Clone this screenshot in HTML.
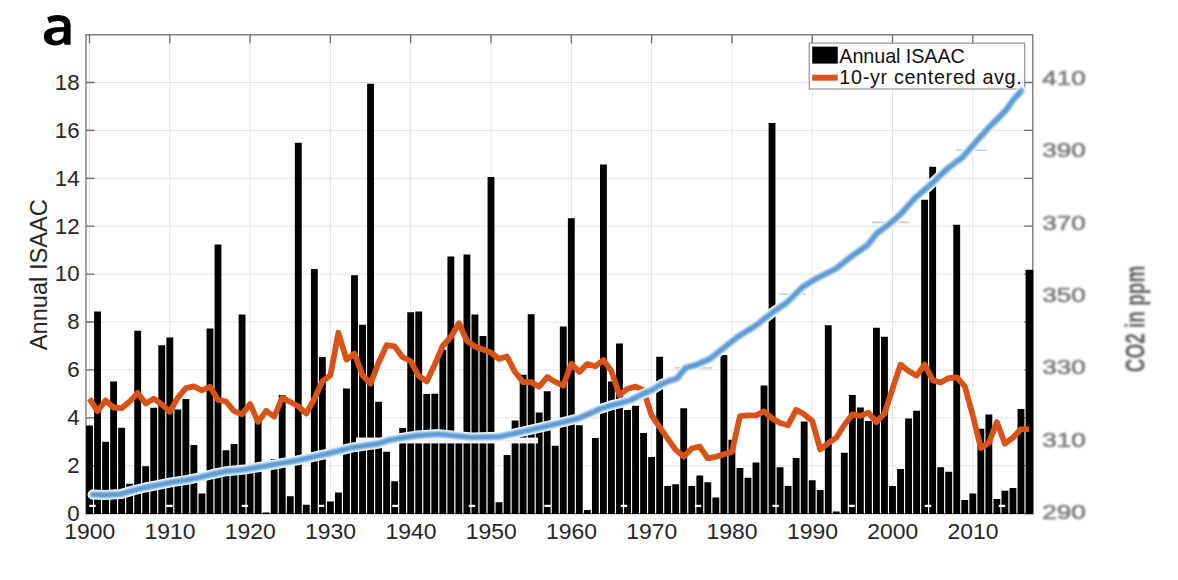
<!DOCTYPE html>
<html><head><meta charset="utf-8"><style>
html,body{margin:0;padding:0;background:#fff;}
body{width:1178px;height:580px;overflow:hidden;position:relative;font-family:"Liberation Sans",sans-serif;}
svg{position:absolute;left:0;top:0;}
</style></head><body>
<svg width="1178" height="580" viewBox="0 0 1178 580">
<defs>
<filter id="blur1" x="-20%" y="-20%" width="140%" height="140%"><feGaussianBlur stdDeviation="0.8"/></filter>
<filter id="blurB" x="-5%" y="-5%" width="110%" height="110%"><feGaussianBlur stdDeviation="0.85"/></filter>
</defs>
<rect width="1178" height="580" fill="#fff"/>

<path d="M89.50 34.8V513.6M169.80 34.8V513.6M250.10 34.8V513.6M330.40 34.8V513.6M410.70 34.8V513.6M491.00 34.8V513.6M571.30 34.8V513.6M651.60 34.8V513.6M731.90 34.8V513.6M812.20 34.8V513.6M892.50 34.8V513.6M972.80 34.8V513.6M86.0 465.70H1032.8M86.0 417.80H1032.8M86.0 369.90H1032.8M86.0 322.00H1032.8M86.0 274.10H1032.8M86.0 226.20H1032.8M86.0 178.30H1032.8M86.0 130.40H1032.8M86.0 82.50H1032.8" stroke="#e3e3e3" stroke-width="1" fill="none"/>
<rect x="86.0" y="34.8" width="946.8" height="478.8" fill="none" stroke="#7a7a7a" stroke-width="1.4"/>
<path d="M89.50 34.8v8.5M169.80 34.8v8.5M250.10 34.8v8.5M330.40 34.8v8.5M410.70 34.8v8.5M491.00 34.8v8.5M571.30 34.8v8.5M651.60 34.8v8.5M731.90 34.8v8.5M812.20 34.8v8.5M892.50 34.8v8.5M972.80 34.8v8.5M86.0 513.60h8.5M1032.8 513.60h-8.5M86.0 465.70h8.5M1032.8 465.70h-8.5M86.0 417.80h8.5M1032.8 417.80h-8.5M86.0 369.90h8.5M1032.8 369.90h-8.5M86.0 322.00h8.5M1032.8 322.00h-8.5M86.0 274.10h8.5M1032.8 274.10h-8.5M86.0 226.20h8.5M1032.8 226.20h-8.5M86.0 178.30h8.5M1032.8 178.30h-8.5M86.0 130.40h8.5M1032.8 130.40h-8.5M86.0 82.50h8.5M1032.8 82.50h-8.5" stroke="#6a6a6a" stroke-width="1.3" fill="none"/>
<path d="M86.08 425.46h6.85V514.1h-6.85ZM94.11 311.46h6.85V514.1h-6.85ZM102.14 441.75h6.85V514.1h-6.85ZM110.17 381.40h6.85V514.1h-6.85ZM118.20 427.86h6.85V514.1h-6.85ZM126.23 483.66h6.85V514.1h-6.85ZM134.25 330.86h6.85V514.1h-6.85ZM142.28 466.18h6.85V514.1h-6.85ZM150.31 407.74h6.85V514.1h-6.85ZM158.34 345.23h6.85V514.1h-6.85ZM166.38 337.57h6.85V514.1h-6.85ZM174.40 409.42h6.85V514.1h-6.85ZM182.43 399.12h6.85V514.1h-6.85ZM190.46 445.10h6.85V514.1h-6.85ZM198.49 493.48h6.85V514.1h-6.85ZM206.52 328.47h6.85V514.1h-6.85ZM214.55 244.40h6.85V514.1h-6.85ZM222.58 450.13h6.85V514.1h-6.85ZM230.61 443.91h6.85V514.1h-6.85ZM238.64 314.58h6.85V514.1h-6.85ZM246.67 471.69h6.85V514.1h-6.85ZM254.70 419.72h6.85V514.1h-6.85ZM262.73 512.40h6.85V514.1h-6.85ZM270.76 458.99h6.85V514.1h-6.85ZM278.79 395.05h6.85V514.1h-6.85ZM286.82 496.36h6.85V514.1h-6.85ZM294.85 142.85h6.85V514.1h-6.85ZM302.88 504.74h6.85V514.1h-6.85ZM310.91 269.07h6.85V514.1h-6.85ZM318.94 356.97h6.85V514.1h-6.85ZM326.97 501.39h6.85V514.1h-6.85ZM335.00 492.52h6.85V514.1h-6.85ZM343.03 388.58h6.85V514.1h-6.85ZM351.06 275.30h6.85V514.1h-6.85ZM359.09 324.63h6.85V514.1h-6.85ZM367.12 83.70h6.85V514.1h-6.85ZM375.15 401.75h6.85V514.1h-6.85ZM383.18 451.81h6.85V514.1h-6.85ZM391.21 481.27h6.85V514.1h-6.85ZM399.24 428.10h6.85V514.1h-6.85ZM407.27 312.18h6.85V514.1h-6.85ZM415.30 311.46h6.85V514.1h-6.85ZM423.33 394.09h6.85V514.1h-6.85ZM431.36 393.85h6.85V514.1h-6.85ZM439.39 349.78h6.85V514.1h-6.85ZM447.42 256.62h6.85V514.1h-6.85ZM455.45 436.96h6.85V514.1h-6.85ZM463.48 254.46h6.85V514.1h-6.85ZM471.51 314.58h6.85V514.1h-6.85ZM479.54 335.89h6.85V514.1h-6.85ZM487.57 177.10h6.85V514.1h-6.85ZM495.60 502.34h6.85V514.1h-6.85ZM503.63 454.92h6.85V514.1h-6.85ZM511.66 420.43h6.85V514.1h-6.85ZM519.69 374.69h6.85V514.1h-6.85ZM527.73 314.34h6.85V514.1h-6.85ZM535.75 412.53h6.85V514.1h-6.85ZM543.79 391.22h6.85V514.1h-6.85ZM551.82 445.82h6.85V514.1h-6.85ZM559.85 326.55h6.85V514.1h-6.85ZM567.88 218.30h6.85V514.1h-6.85ZM575.90 425.22h6.85V514.1h-6.85ZM583.93 510.01h6.85V514.1h-6.85ZM591.97 437.92h6.85V514.1h-6.85ZM600.00 164.41h6.85V514.1h-6.85ZM608.02 381.40h6.85V514.1h-6.85ZM616.05 343.56h6.85V514.1h-6.85ZM624.09 409.90h6.85V514.1h-6.85ZM632.12 405.83h6.85V514.1h-6.85ZM640.14 432.89h6.85V514.1h-6.85ZM648.17 457.08h6.85V514.1h-6.85ZM656.21 356.73h6.85V514.1h-6.85ZM664.24 486.06h6.85V514.1h-6.85ZM672.26 484.14h6.85V514.1h-6.85ZM680.29 408.22h6.85V514.1h-6.85ZM688.33 486.06h6.85V514.1h-6.85ZM696.36 475.52h6.85V514.1h-6.85ZM704.38 482.23h6.85V514.1h-6.85ZM712.41 497.55h6.85V514.1h-6.85ZM720.45 355.05h6.85V514.1h-6.85ZM728.48 439.83h6.85V514.1h-6.85ZM736.50 468.10h6.85V514.1h-6.85ZM744.53 477.68h6.85V514.1h-6.85ZM752.56 462.59h6.85V514.1h-6.85ZM760.60 385.47h6.85V514.1h-6.85ZM768.62 122.98h6.85V514.1h-6.85ZM776.65 467.14h6.85V514.1h-6.85ZM784.68 486.06h6.85V514.1h-6.85ZM792.72 458.04h6.85V514.1h-6.85ZM800.75 421.39h6.85V514.1h-6.85ZM808.77 480.31h6.85V514.1h-6.85ZM816.80 489.89h6.85V514.1h-6.85ZM824.84 325.35h6.85V514.1h-6.85ZM832.87 511.44h6.85V514.1h-6.85ZM840.89 452.77h6.85V514.1h-6.85ZM848.92 395.05h6.85V514.1h-6.85ZM856.95 407.50h6.85V514.1h-6.85ZM864.99 420.91h6.85V514.1h-6.85ZM873.01 327.75h6.85V514.1h-6.85ZM881.04 336.85h6.85V514.1h-6.85ZM889.07 486.06h6.85V514.1h-6.85ZM897.11 469.05h6.85V514.1h-6.85ZM905.13 418.52h6.85V514.1h-6.85ZM913.16 410.85h6.85V514.1h-6.85ZM921.19 199.86h6.85V514.1h-6.85ZM929.23 166.80h6.85V514.1h-6.85ZM937.25 467.14h6.85V514.1h-6.85ZM945.28 471.69h6.85V514.1h-6.85ZM953.31 224.76h6.85V514.1h-6.85ZM961.35 499.95h6.85V514.1h-6.85ZM969.38 493.48h6.85V514.1h-6.85ZM977.40 428.82h6.85V514.1h-6.85ZM985.43 414.45h6.85V514.1h-6.85ZM993.46 498.99h6.85V514.1h-6.85ZM1001.50 490.85h6.85V514.1h-6.85ZM1009.52 487.97h6.85V514.1h-6.85ZM1017.55 408.94h6.85V514.1h-6.85ZM1025.58 269.79h7.75V514.1h-7.75Z" fill="#000"/>
<rect x="356" y="437.6" width="182" height="5.8" fill="#fff"/>
<path d="M358 440.5H537" stroke="#eeeeee" stroke-width="2.2"/>
<path d="M956 150.2H987M872 222.4H909.5M779 294.1H805.6M675 367.9H712.4" stroke="#cfcfcf" stroke-width="1.6"/>
<path d="M89.3 505.9h6.4M166.3 505.9h6.4M241.8 505.9h6.4M317.8 505.9h6.4M392.3 505.9h6.4M468.8 505.9h6.4M544.4 505.9h6.4M620.8 505.9h6.4M694.8 505.9h6.4M772.4 505.9h6.4M848.4 505.9h6.4M924.8 505.9h6.4M998.8 505.9h6.4" stroke="#fff" stroke-width="2.2"/>
<polyline points="89.50,398.64 97.53,411.09 105.56,400.56 113.59,407.50 121.62,408.22 129.65,401.51 137.68,392.89 145.71,403.43 153.74,398.64 161.77,404.39 169.80,411.81 177.83,397.68 185.86,388.10 193.89,386.43 201.92,390.50 209.95,386.67 217.98,399.60 226.01,401.51 234.04,411.09 242.07,414.21 250.10,404.15 258.13,421.87 266.16,410.85 274.19,416.60 282.22,397.92 290.25,401.99 298.28,406.30 306.31,413.49 314.34,398.88 322.37,381.40 330.40,375.17 338.43,332.78 346.46,359.60 354.49,353.61 362.52,375.17 370.55,383.55 378.58,362.72 386.61,345.23 394.64,346.43 402.67,357.21 410.70,361.28 418.73,375.89 426.76,381.40 434.79,364.39 442.82,345.71 450.85,337.09 458.88,323.20 466.91,340.92 474.94,346.43 482.97,349.54 491.00,352.66 499.03,358.88 507.06,356.49 515.09,372.06 523.12,382.11 531.15,382.11 539.18,386.67 547.21,377.09 555.24,381.88 563.27,385.71 571.30,363.91 579.33,371.82 587.36,363.91 595.39,366.31 603.42,360.08 611.45,371.10 619.48,395.05 627.51,388.82 635.54,386.67 643.57,390.26 651.60,415.41 659.63,427.14 667.66,438.64 675.69,449.89 683.72,456.60 691.75,448.46 699.78,446.54 707.81,458.28 715.84,456.84 723.87,454.20 731.90,452.05 739.93,416.12 747.96,415.41 755.99,415.41 764.02,411.33 772.05,418.28 780.08,423.07 788.11,425.22 796.14,409.90 804.17,414.21 812.20,420.91 820.23,449.41 828.26,443.19 836.29,437.68 844.32,424.99 852.35,414.45 860.38,415.88 868.41,412.77 876.44,422.11 884.47,413.49 892.50,388.82 900.53,364.63 908.56,371.10 916.59,375.65 924.62,364.63 932.65,380.20 940.68,382.59 948.71,378.04 956.74,377.32 964.77,386.19 972.80,415.41 980.83,447.98 988.86,442.71 996.89,422.11 1004.92,443.67 1012.95,437.68 1020.98,429.06 1029.01,429.06" fill="none" stroke="#D95319" stroke-width="5.8" stroke-linejoin="round" stroke-linecap="butt"/>
<text x="79.6" y="520.9" text-anchor="end" font-family="Liberation Sans" font-size="22.3" fill="#262626">0</text>
<text x="79.6" y="473.0" text-anchor="end" font-family="Liberation Sans" font-size="22.3" fill="#262626">2</text>
<text x="79.6" y="425.1" text-anchor="end" font-family="Liberation Sans" font-size="22.3" fill="#262626">4</text>
<text x="79.6" y="377.2" text-anchor="end" font-family="Liberation Sans" font-size="22.3" fill="#262626">6</text>
<text x="79.6" y="329.3" text-anchor="end" font-family="Liberation Sans" font-size="22.3" fill="#262626">8</text>
<text x="79.6" y="281.4" text-anchor="end" font-family="Liberation Sans" font-size="22.3" fill="#262626">10</text>
<text x="79.6" y="233.5" text-anchor="end" font-family="Liberation Sans" font-size="22.3" fill="#262626">12</text>
<text x="79.6" y="185.6" text-anchor="end" font-family="Liberation Sans" font-size="22.3" fill="#262626">14</text>
<text x="79.6" y="137.7" text-anchor="end" font-family="Liberation Sans" font-size="22.3" fill="#262626">16</text>
<text x="79.6" y="89.8" text-anchor="end" font-family="Liberation Sans" font-size="22.3" fill="#262626">18</text>
<text x="89.7" y="538.9" text-anchor="middle" font-family="Liberation Sans" font-size="22.3" textLength="51" lengthAdjust="spacingAndGlyphs" fill="#262626">1900</text>
<text x="170.0" y="538.9" text-anchor="middle" font-family="Liberation Sans" font-size="22.3" textLength="51" lengthAdjust="spacingAndGlyphs" fill="#262626">1910</text>
<text x="250.3" y="538.9" text-anchor="middle" font-family="Liberation Sans" font-size="22.3" textLength="51" lengthAdjust="spacingAndGlyphs" fill="#262626">1920</text>
<text x="330.6" y="538.9" text-anchor="middle" font-family="Liberation Sans" font-size="22.3" textLength="51" lengthAdjust="spacingAndGlyphs" fill="#262626">1930</text>
<text x="410.9" y="538.9" text-anchor="middle" font-family="Liberation Sans" font-size="22.3" textLength="51" lengthAdjust="spacingAndGlyphs" fill="#262626">1940</text>
<text x="491.2" y="538.9" text-anchor="middle" font-family="Liberation Sans" font-size="22.3" textLength="51" lengthAdjust="spacingAndGlyphs" fill="#262626">1950</text>
<text x="571.5" y="538.9" text-anchor="middle" font-family="Liberation Sans" font-size="22.3" textLength="51" lengthAdjust="spacingAndGlyphs" fill="#262626">1960</text>
<text x="651.8" y="538.9" text-anchor="middle" font-family="Liberation Sans" font-size="22.3" textLength="51" lengthAdjust="spacingAndGlyphs" fill="#262626">1970</text>
<text x="732.1" y="538.9" text-anchor="middle" font-family="Liberation Sans" font-size="22.3" textLength="51" lengthAdjust="spacingAndGlyphs" fill="#262626">1980</text>
<text x="812.4" y="538.9" text-anchor="middle" font-family="Liberation Sans" font-size="22.3" textLength="51" lengthAdjust="spacingAndGlyphs" fill="#262626">1990</text>
<text x="892.7" y="538.9" text-anchor="middle" font-family="Liberation Sans" font-size="22.3" textLength="51" lengthAdjust="spacingAndGlyphs" fill="#262626">2000</text>
<text x="973.0" y="538.9" text-anchor="middle" font-family="Liberation Sans" font-size="22.3" textLength="51" lengthAdjust="spacingAndGlyphs" fill="#262626">2010</text>
<text transform="translate(46.6,274.7) rotate(-90)" text-anchor="middle" font-family="Liberation Sans" font-size="23" textLength="151" lengthAdjust="spacingAndGlyphs" fill="#262626">Annual ISAAC</text>
<rect x="809.2" y="43.1" width="215.5" height="45.9" fill="#fff" stroke="#8a8a8a" stroke-width="1.1"/>
<rect x="812.2" y="46.6" width="25.5" height="17" fill="#000"/>
<rect x="812.2" y="74.7" width="25.5" height="6" fill="#D95319"/>
<text x="839.3" y="62.6" font-family="Liberation Sans" font-size="19.8" textLength="125.5" lengthAdjust="spacing" fill="#111">Annual ISAAC</text>
<text x="839.3" y="84.1" font-family="Liberation Sans" font-size="19.8" textLength="182.5" lengthAdjust="spacing" fill="#111">10-yr centered avg.</text>
<polyline points="92.6,494.6 104.4,495.0 120.7,494.1 131.5,490.9 145.1,487.5 158.7,484.8 172.3,482.1 185.9,480.1 199.5,477.4 213.0,474.0 226.6,471.2 244.0,469.6 270.2,465.2 297.4,460.3 324.6,454.3 351.7,447.6 378.9,443.5 390.0,439.8 417.2,435.5 438.9,434.1 471.5,437.4 498.7,436.8 525.9,430.9 553.0,424.6 580.2,417.8 600.0,409.0 610.0,405.7 620.3,403.1 630.7,400.0 641.0,394.8 651.4,390.2 661.7,384.0 670.0,380.6 676.9,378.6 685.5,367.8 695.9,365.0 709.7,359.0 721.7,349.5 739.0,335.9 756.2,325.3 773.4,311.8 787.0,302.5 802.5,287.0 818.0,277.6 836.6,268.3 852.2,255.9 867.7,245.0 876.6,233.6 886.9,225.9 900.0,214.8 914.5,198.6 928.9,186.1 948.2,168.0 962.7,157.2 977.2,140.3 991.7,124.6 1006.1,110.1 1013.4,99.6 1021.2,91.0" fill="none" stroke="#fff" stroke-width="10" stroke-linejoin="round" stroke-linecap="round"/>
<polyline points="92.6,494.6 104.4,495.0 120.7,494.1 131.5,490.9 145.1,487.5 158.7,484.8 172.3,482.1 185.9,480.1 199.5,477.4 213.0,474.0 226.6,471.2 244.0,469.6 270.2,465.2 297.4,460.3 324.6,454.3 351.7,447.6 378.9,443.5 390.0,439.8 417.2,435.5 438.9,434.1 471.5,437.4 498.7,436.8 525.9,430.9 553.0,424.6 580.2,417.8 600.0,409.0 610.0,405.7 620.3,403.1 630.7,400.0 641.0,394.8 651.4,390.2 661.7,384.0 670.0,380.6 676.9,378.6 685.5,367.8 695.9,365.0 709.7,359.0 721.7,349.5 739.0,335.9 756.2,325.3 773.4,311.8 787.0,302.5 802.5,287.0 818.0,277.6 836.6,268.3 852.2,255.9 867.7,245.0 876.6,233.6 886.9,225.9 900.0,214.8 914.5,198.6 928.9,186.1 948.2,168.0 962.7,157.2 977.2,140.3 991.7,124.6 1006.1,110.1 1013.4,99.6 1021.2,91.0" fill="none" stroke="#5B9BD5" stroke-width="5.9" stroke-linejoin="round" stroke-linecap="round" filter="url(#blurB)"/>
<path fill-rule="evenodd" fill="#000" d="M47.2 17.6C50 16 53.5 15.1 57.3 15.1C66.5 15.1 70.6 19 70.6 25.5L70.6 44.7L64.8 44.7L63.7 42.2C61.6 44.3 59 45.4 54.6 45.4C48.3 45.4 43.8 42.3 43.8 36.6C43.8 30.5 48.5 27.6 57.5 27.3L64.2 27.1L64.2 25.8C64.2 22.6 62 21.1 58.3 21.1C55 21.1 52 22 49.2 23.3Z M63.6 31.6L61 31.8C55.5 32 51.8 33.5 51.8 36.8C51.8 39.3 53.6 40.8 56.2 40.8C60.3 40.8 63.6 38.6 63.6 34.8Z"/>
<text transform="translate(1042.3,84.7) scale(1.33,1)" font-family="Liberation Sans" font-size="19.6" fill="#7a7a7e" stroke="#7a7a7e" stroke-width="0.6" filter="url(#blur1)">410</text>
<text transform="translate(1042.3,157.1) scale(1.33,1)" font-family="Liberation Sans" font-size="19.6" fill="#7a7a7e" stroke="#7a7a7e" stroke-width="0.6" filter="url(#blur1)">390</text>
<text transform="translate(1042.3,229.5) scale(1.33,1)" font-family="Liberation Sans" font-size="19.6" fill="#7a7a7e" stroke="#7a7a7e" stroke-width="0.6" filter="url(#blur1)">370</text>
<text transform="translate(1042.3,301.9) scale(1.33,1)" font-family="Liberation Sans" font-size="19.6" fill="#7a7a7e" stroke="#7a7a7e" stroke-width="0.6" filter="url(#blur1)">350</text>
<text transform="translate(1042.3,374.3) scale(1.33,1)" font-family="Liberation Sans" font-size="19.6" fill="#7a7a7e" stroke="#7a7a7e" stroke-width="0.6" filter="url(#blur1)">330</text>
<text transform="translate(1042.3,446.7) scale(1.33,1)" font-family="Liberation Sans" font-size="19.6" fill="#7a7a7e" stroke="#7a7a7e" stroke-width="0.6" filter="url(#blur1)">310</text>
<text transform="translate(1042.3,519.1) scale(1.33,1)" font-family="Liberation Sans" font-size="19.6" fill="#7a7a7e" stroke="#7a7a7e" stroke-width="0.6" filter="url(#blur1)">290</text>
<text transform="translate(1144.5,319) rotate(-90) scale(1,1.45)" text-anchor="middle" font-family="Liberation Sans" font-weight="bold" font-size="19" fill="#5e5e62" filter="url(#blur1)">CO2 in ppm</text>
</svg></body></html>
